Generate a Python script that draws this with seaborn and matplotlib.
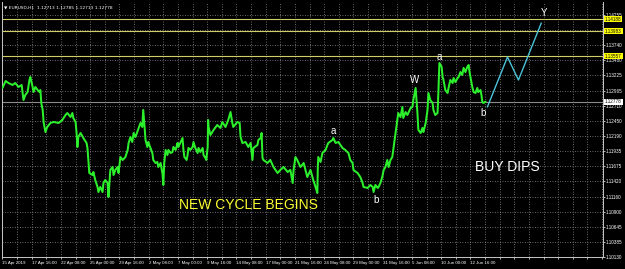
import matplotlib
matplotlib.use("Agg")
import matplotlib.pyplot as plt
import seaborn as sns
import pandas as pd

# ---------------- data ----------------
bar_index = [0, 7, 13, 22, 28, 35, 42, 46, 50, 55, 59, 61, 66, 68, 72, 77, 81, 83, 85, 88,
             90, 94, 98, 105, 112, 123, 131, 138, 142, 149, 153, 155, 160, 162, 164, 166, 171, 177, 184, 186,
             188, 190, 197, 199, 203, 208, 210, 214, 219, 221, 225, 230, 232, 236, 241, 243, 247, 252, 254, 258,
             263, 269, 274, 276, 280, 284, 287, 291, 295, 298, 302, 306, 308, 311, 313, 317, 319, 324, 328, 330,
             335, 339, 341, 346, 350, 352, 354, 357, 361, 363, 368, 372, 374, 379, 383, 385, 389, 394, 396, 398,
             403, 405, 407, 411, 416, 418, 422, 427, 429, 433, 438, 440, 444, 446, 449, 450, 451, 455, 462, 470,
             477, 481, 488, 494, 499, 503, 505, 514, 519, 521, 525, 532, 538, 543, 547, 549, 558, 560, 565, 567,
             569, 571, 580, 586, 593, 602, 608, 615, 624, 630, 635, 637, 641, 645, 652, 659, 667, 674, 680, 685,
             689, 690, 691, 696, 700, 707, 711, 713, 722, 724, 729, 735, 744, 750, 757, 761, 766, 768, 777, 783,
             788, 790, 799, 805, 810, 812, 816, 821, 823, 827, 831, 834, 838, 842, 845, 849, 853, 856, 860, 864,
             866, 871, 875, 877, 882, 886, 888, 893, 897, 899, 904, 908, 910, 915, 919, 921, 926, 930, 932, 936,
             941, 943, 947, 952, 954, 956, 961, 963, 965, 969, 974, 976, 980, 985, 987, 991, 996, 998, 1002, 1006,
             1009, 1013, 1017, 1020, 1022, 1024, 1028, 1031, 1035, 1039, 1041, 1046, 1048, 1050, 1052, 1057]
close_price = [1.13012, 1.13131, 1.13097, 1.13063, 1.13097, 1.13029, 1.13063, 1.12807, 1.12892, 1.12943,
               1.13148, 1.13199, 1.13029, 1.12943, 1.13029, 1.12977, 1.12943, 1.12977, 1.12756, 1.12637,
               1.12432, 1.12261, 1.12347, 1.12415, 1.12432, 1.12415, 1.12466, 1.12551, 1.12585, 1.12517,
               1.12585, 1.12500, 1.12432, 1.12261, 1.12006, 1.12176, 1.12244, 1.12159, 1.12074, 1.11989,
               1.11784, 1.11562, 1.11528, 1.11579, 1.11443, 1.11324, 1.11238, 1.11324, 1.11238, 1.11392,
               1.11443, 1.11392, 1.11153, 1.11614, 1.11665, 1.11528, 1.11614, 1.11665, 1.11562, 1.11835,
               1.11784, 1.11835, 1.11955, 1.12074, 1.12176, 1.12091, 1.12244, 1.12176, 1.12261, 1.12330,
               1.12415, 1.12347, 1.12637, 1.12347, 1.12125, 1.12006, 1.12091, 1.11989, 1.11903, 1.11784,
               1.11733, 1.11750, 1.11665, 1.11733, 1.11562, 1.11358, 1.11733, 1.11955, 1.11869, 1.11955,
               1.11903, 1.11920, 1.12006, 1.11955, 1.12074, 1.12006, 1.12074, 1.12159, 1.11955, 1.11835,
               1.11784, 1.11869, 1.11989, 1.11955, 1.12006, 1.12091, 1.11989, 1.11903, 1.11989, 1.11920,
               1.11989, 1.11869, 1.11818, 1.11784, 1.12006, 1.12466, 1.12347, 1.12210, 1.12296, 1.12381,
               1.12330, 1.12432, 1.12347, 1.12466, 1.12602, 1.12415, 1.12347, 1.12432, 1.12415, 1.12176,
               1.12074, 1.12091, 1.12006, 1.12074, 1.11784, 1.11989, 1.12040, 1.12125, 1.12159, 1.12244,
               1.11818, 1.11784, 1.11733, 1.11784, 1.11665, 1.11562, 1.11614, 1.11665, 1.11579, 1.11614,
               1.11392, 1.11614, 1.11835, 1.11784, 1.11665, 1.11733, 1.11494, 1.11614, 1.11443, 1.11324,
               1.11221, 1.11665, 1.11835, 1.11750, 1.11903, 1.11955, 1.12040, 1.12074, 1.12125, 1.12159,
               1.12074, 1.12091, 1.11989, 1.11955, 1.11903, 1.11784, 1.11733, 1.11614, 1.11562, 1.11494,
               1.11392, 1.11324, 1.11307, 1.11358, 1.11324, 1.11238, 1.11358, 1.11307, 1.11324, 1.11392,
               1.11494, 1.11614, 1.11665, 1.11784, 1.11665, 1.11784, 1.11835, 1.12006, 1.12244, 1.12466,
               1.12585, 1.12517, 1.12688, 1.12500, 1.12602, 1.12551, 1.12585, 1.12671, 1.12688, 1.12807,
               1.13012, 1.12585, 1.12296, 1.12244, 1.12330, 1.12261, 1.12415, 1.12637, 1.12926, 1.12807,
               1.12756, 1.12637, 1.12551, 1.12585, 1.12977, 1.13438, 1.13370, 1.13199, 1.13148, 1.12977,
               1.12926, 1.13012, 1.13148, 1.13097, 1.13182, 1.13114, 1.13182, 1.13199, 1.13284, 1.13233,
               1.13353, 1.13284, 1.13370, 1.13404, 1.13284, 1.13199, 1.13029, 1.12943, 1.12926, 1.13012,
               1.12943, 1.12977, 1.12892, 1.12773, 1.12756, 1.12778]

forecast_index = [1061, 1105, 1129, 1179]
forecast_price = [1.12688, 1.13540, 1.13148, 1.14120]

wave_labels = ["a", "b", "W", "a", "b", "Y"]
wave_index = [724, 818, 902, 956, 1052, 1184]
wave_price = [1.12279, 1.11102, 1.13148, 1.13540, 1.12585, 1.14290]

level_prices = [1.14188, 1.13983, 1.13557]
level_labels = ["1.14188", "1.13983", "1.13557"]
current_price = 1.12778
current_label = "1.12778"

price_ticks = [1.14255, 1.13997, 1.13740, 1.13482, 1.13225, 1.12965, 1.12710, 1.12450, 1.12190,
               1.11935, 1.11675, 1.11420, 1.11160, 1.10900, 1.10645, 1.10385, 1.10130]
price_tick_labels = ["1.14255", "1.13997", "1.13740", "1.13480", "1.13225", "1.12965", "1.12710",
                     "1.12450", "1.12190", "1.11935", "1.11675", "1.11420", "1.11160", "1.10900",
                     "1.10645", "1.10385", "1.10130"]

date_labels = ["15 Apr 2019", "17 Apr 16:00", "22 Apr 08:00", "25 Apr 00:00", "29 Apr 16:00",
               "2 May 08:00", "7 May 00:00", "9 May 16:00", "14 May 08:00", "17 May 00:00",
               "21 May 16:00", "24 May 08:00", "29 May 00:00", "31 May 16:00", "5 Jun 08:00",
               "10 Jun 00:00", "12 Jun 16:00"]
bars_per_label = 64

header = "\u25BC EURUSD,H1  1.12713 1.12785 1.12713 1.12778"
note_left = "NEW CYCLE BEGINS"
note_left_pos = (538, 1.11017)
note_right = "BUY DIPS"
note_right_pos = (1105, 1.11665)

# ---------------- style ----------------
sns.set_style("dark", {"axes.facecolor": "black", "figure.facecolor": "black",
                       "axes.edgecolor": "#b0b0b0", "grid.color": "#8a8a8a"})
plt.rcParams["font.family"] = ["Liberation Sans", "DejaVu Sans"]

fig = plt.figure(figsize=(6.25, 2.69), dpi=100, facecolor="black")
ax = fig.add_axes([2 / 625, 12 / 269, 601 / 625, 255 / 269])
ax.set_facecolor("black")

price_df = pd.DataFrame({"bar": bar_index, "price": close_price})
fc_df = pd.DataFrame({"bar": forecast_index, "price": forecast_price})

# grid
xt = list(range(0, bars_per_label * (len(date_labels) + 4), bars_per_label // 2))
ax.set_xticks(xt)
xl = []
for t in xt:
    k = t // bars_per_label
    if t % bars_per_label == 0 and k < len(date_labels):
        xl.append(date_labels[k])
    else:
        xl.append("")
ax.set_xticklabels(xl, ha="left")
ax.set_yticks(price_ticks)
ax.set_yticklabels(price_tick_labels)
ax.grid(True, color="#8c8c8c", linestyle=(0, (1, 2)), linewidth=0.6)

# level lines
for p in level_prices:
    ax.axhline(p, color="#cfcf66", lw=0.8, zorder=2)
ax.axhline(current_price, color="#8a8a8a", lw=0.8, zorder=2)

sns.lineplot(data=price_df, x="bar", y="price", ax=ax, color="#2cf02c", lw=1.45,
             estimator=None, sort=False, zorder=4)
sns.lineplot(data=fc_df, x="bar", y="price", ax=ax, color="#4cc4d8", lw=1.0,
             estimator=None, sort=False, zorder=4)

for lab, xi, yi in zip(wave_labels, wave_index, wave_price):
    ax.text(xi, yi, lab, color="white", fontsize=7, ha="center", va="center", zorder=5)

ax.text(*note_left_pos, note_left, color="#ffff33", fontsize=10, ha="center", va="center")
ax.text(*note_right_pos, note_right, color="white", fontsize=10, ha="center", va="center")

ax.set_xlim(-1, 1314)
ax.set_ylim(1.10130, 1.14478)
ax.set_xlabel("")
ax.set_ylabel("")

ax.yaxis.tick_right()
ax.tick_params(axis="y", colors="white", labelsize=3.3, length=1.5, width=0.5, pad=0.6,
               right=True, left=False)
ax.tick_params(axis="x", colors="white", labelsize=3.2, length=1.5, width=0.5, pad=1.2, bottom=True)
for lab in ax.get_xticklabels() + ax.get_yticklabels():
    lab.set_color("white")

for s in ["left", "bottom", "right"]:
    ax.spines[s].set_color("#c8c8c8")
    ax.spines[s].set_linewidth(0.7)
ax.spines["top"].set_visible(False)

ytr = ax.get_yaxis_transform()
for p, lab in zip(level_prices, level_labels):
    ax.text(1.0035, p, lab, transform=ytr, fontsize=3.3, color="black", va="center", ha="left",
            bbox=dict(facecolor="#ffff00", edgecolor="none", pad=0.5), clip_on=False, zorder=6)
ax.text(1.0035, current_price, current_label, transform=ytr, fontsize=3.3, color="black",
        va="center", ha="left", bbox=dict(facecolor="white", edgecolor="none", pad=0.5),
        clip_on=False, zorder=6)

ax.text(0.003, 0.985, header, transform=ax.transAxes, fontsize=3.2, color="white",
        va="top", ha="left", family=["DejaVu Sans"])

fig.savefig("out.png", dpi=100, facecolor="black")
